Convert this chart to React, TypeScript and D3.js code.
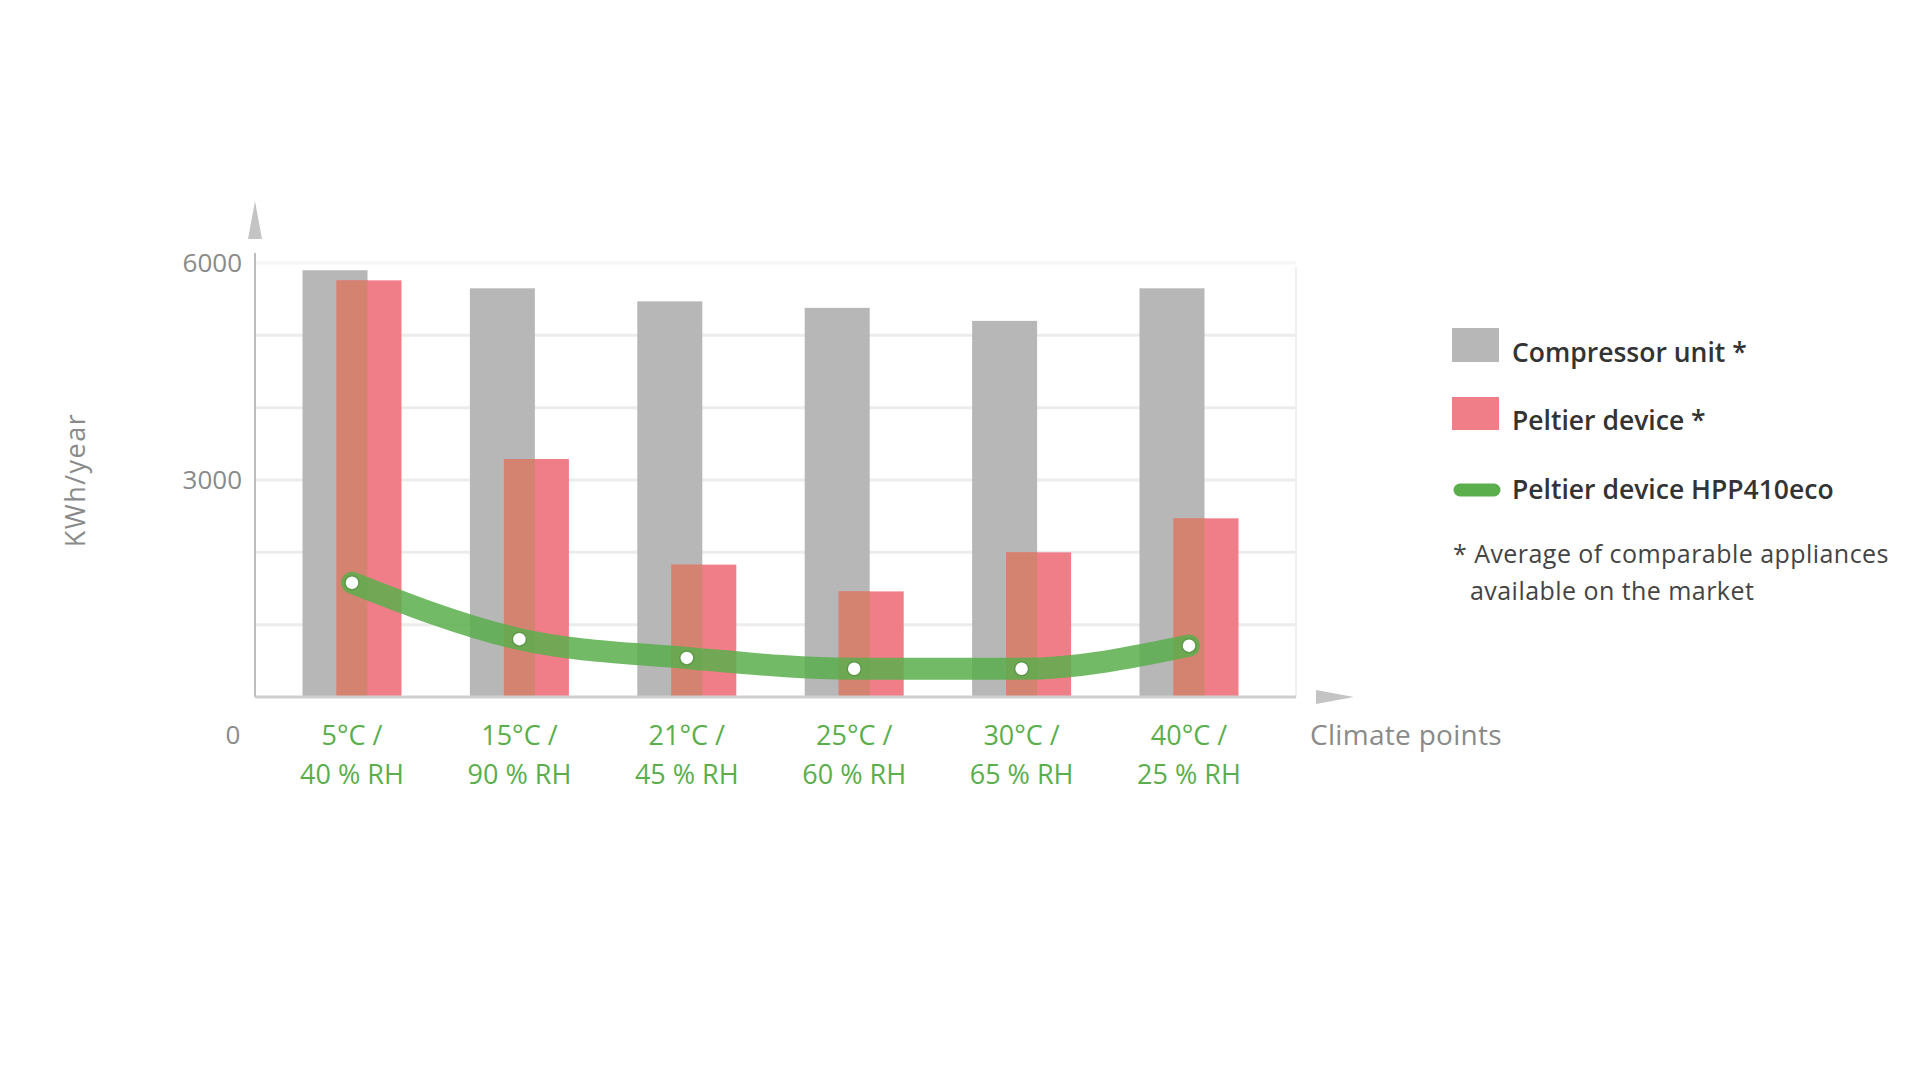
import React, { useEffect, useRef } from "react";
import * as d3 from "d3";

// climate points (two-line labels)
const climateTemp = ["5°C /", "15°C /", "21°C /", "25°C /", "30°C /", "40°C /"];
const climateRH = ["40 % RH", "90 % RH", "45 % RH", "60 % RH", "65 % RH", "25 % RH"];

// KWh/year
const compressorUnit = [5900, 5650, 5470, 5380, 5200, 5650];
const peltierDevice = [5760, 3290, 1830, 1460, 2000, 2470];
const peltierHPP410eco = [1580, 800, 540, 390, 390, 710];

const yTicks = [6000, 3000];
const gridValues = [1000, 2000, 3000, 4000, 5000, 6000];

const W = 1920;
const H = 1080;

const App = () => {
	const ref = useRef(null);

	useEffect(() => {
		const svg = d3.select(ref.current);
		svg.selectAll("*").remove();

		const left = 255;
		const right = 1296;
		const top = 263;
		const bottom = 697;

		const x = d3.scalePoint().domain(climateTemp).range([352, 1189]);
		const y = d3.scaleLinear().domain([0, 6000]).range([bottom, top]);

		const bw = 65;
		const off = 17;
		const font = "'Open Sans', 'Noto Sans', sans-serif";

		svg.append("rect").attr("width", W).attr("height", H).attr("fill", "#ffffff");

		// grid
		svg
			.selectAll(".grid")
			.data(gridValues)
			.enter()
			.append("line")
			.attr("x1", left)
			.attr("x2", right)
			.attr("y1", (d) => y(d))
			.attr("y2", (d) => y(d))
			.attr("stroke", (d) => (d === 6000 ? "#f6f6f6" : "#ececec"))
			.attr("stroke-width", 3);

		svg
			.append("line")
			.attr("x1", right)
			.attr("x2", right)
			.attr("y1", top + 4)
			.attr("y2", bottom)
			.attr("stroke", "#f0f0f0")
			.attr("stroke-width", 2);

		const rows = climateTemp.map((c, i) => ({
			c,
			comp: compressorUnit[i],
			pel: peltierDevice[i],
			eco: peltierHPP410eco[i],
		}));

		// compressor bars
		svg
			.selectAll(".comp")
			.data(rows)
			.enter()
			.append("rect")
			.attr("x", (d) => x(d.c) - off - bw / 2)
			.attr("y", (d) => y(d.comp))
			.attr("width", bw)
			.attr("height", (d) => bottom - y(d.comp))
			.attr("fill", "#b7b7b8");

		// peltier bars
		svg
			.selectAll(".pel")
			.data(rows)
			.enter()
			.append("rect")
			.attr("x", (d) => x(d.c) + off - bw / 2)
			.attr("y", (d) => y(d.pel))
			.attr("width", bw)
			.attr("height", (d) => bottom - y(d.pel))
			.attr("fill", "#f07e88");

		// overlap of the two bars
		svg
			.selectAll(".ovl")
			.data(rows)
			.enter()
			.append("rect")
			.attr("x", (d) => x(d.c) + off - bw / 2)
			.attr("y", (d) => y(Math.min(d.comp, d.pel)))
			.attr("width", bw - 2 * off)
			.attr("height", (d) => bottom - y(Math.min(d.comp, d.pel)))
			.attr("fill", "#d3836f");

		// axes
		svg
			.append("line")
			.attr("x1", left)
			.attr("x2", left)
			.attr("y1", top - 10)
			.attr("y2", bottom)
			.attr("stroke", "#bdbdbd")
			.attr("stroke-width", 2);
		svg
			.append("line")
			.attr("x1", left)
			.attr("x2", right)
			.attr("y1", bottom)
			.attr("y2", bottom)
			.attr("stroke", "#cfcfcf")
			.attr("stroke-width", 3);
		svg
			.append("path")
			.attr("d", `M${left - 7},${top - 24} L${left},${top - 62} L${left + 7},${top - 24} Z`)
			.attr("fill", "#c4c4c4");
		svg
			.append("path")
			.attr("d", `M${right + 20},${bottom - 7} L${right + 58},${bottom} L${right + 20},${bottom + 7} Z`)
			.attr("fill", "#c4c4c4");

		// eco line
		const line = d3
			.line()
			.x((d) => x(d.c))
			.y((d) => y(d.eco))
			.curve(d3.curveMonotoneX);

		svg
			.append("path")
			.datum(rows)
			.attr("d", line)
			.attr("fill", "none")
			.attr("stroke", "#5aae4c")
			.attr("stroke-opacity", 0.85)
			.attr("stroke-width", 22)
			.attr("stroke-linecap", "round")
			.attr("stroke-linejoin", "round");

		svg
			.selectAll(".dot")
			.data(rows)
			.enter()
			.append("circle")
			.attr("cx", (d) => x(d.c))
			.attr("cy", (d) => y(d.eco))
			.attr("r", 7)
			.attr("fill", "#ffffff")
			.attr("stroke", "#5d9a48")
			.attr("stroke-width", 1.5);

		// y tick labels
		svg
			.selectAll(".ytick")
			.data(yTicks)
			.enter()
			.append("text")
			.attr("x", left - 13)
			.attr("y", (d) => y(d))
			.attr("dy", "0.35em")
			.attr("text-anchor", "end")
			.attr("font-family", font)
			.attr("font-size", 26)
			.attr("fill", "#8a8a8a")
			.text((d) => d);

		svg
			.append("text")
			.attr("x", 233)
			.attr("y", 735)
			.attr("dy", "0.35em")
			.attr("text-anchor", "middle")
			.attr("font-family", font)
			.attr("font-size", 26)
			.attr("fill", "#8a8a8a")
			.text("0");

		svg
			.append("text")
			.attr("transform", `translate(76,480) rotate(-90)`)
			.attr("dy", "0.35em")
			.attr("text-anchor", "middle")
			.attr("font-family", font)
			.attr("font-size", 27)
			.attr("letter-spacing", 1.5)
			.attr("fill", "#8a8a8a")
			.text("KWh/year");

		// x labels
		const xl = svg
			.selectAll(".xl")
			.data(rows)
			.enter()
			.append("text")
			.attr("text-anchor", "middle")
			.attr("font-family", font)
			.attr("font-size", 27)
			.attr("fill", "#5aae4c");
		xl.append("tspan")
			.attr("x", (d) => x(d.c))
			.attr("y", 745)
			.text((d) => d.c);
		xl.append("tspan")
			.attr("x", (d) => x(d.c))
			.attr("y", 784)
			.text((d, i) => climateRH[i]);

		svg
			.append("text")
			.attr("x", 1310)
			.attr("y", 745)
			.attr("font-family", font)
			.attr("font-size", 28)
			.attr("letter-spacing", 0.3)
			.attr("fill", "#8a8a8a")
			.text("Climate points");

		// legend
		const lg = svg.append("g");
		lg.append("rect").attr("x", 1452).attr("y", 328).attr("width", 47).attr("height", 34).attr("fill", "#b7b7b8");
		lg.append("rect").attr("x", 1452).attr("y", 397).attr("width", 47).attr("height", 33).attr("fill", "#f07e88");
		lg.append("line")
			.attr("x1", 1460)
			.attr("x2", 1494)
			.attr("y1", 490)
			.attr("y2", 490)
			.attr("stroke", "#5aae4c")
			.attr("stroke-width", 13)
			.attr("stroke-linecap", "round");

		const legendItems = [
			["Compressor unit *", 353],
			["Peltier device *", 421],
			["Peltier device HPP410eco", 490],
		];
		lg.selectAll(".lt")
			.data(legendItems)
			.enter()
			.append("text")
			.attr("x", 1512)
			.attr("y", (d) => d[1])
			.attr("dy", "0.35em")
			.attr("font-family", font)
			.attr("font-size", 26.5)
			.attr("font-weight", 600)
			.attr("fill", "#333333")
			.text((d) => d[0]);

		lg.append("text")
			.attr("x", 1453)
			.attr("y", 554)
			.attr("dy", "0.35em")
			.attr("font-family", font)
			.attr("font-size", 25)
			.attr("letter-spacing", 0.45)
			.attr("fill", "#444444")
			.text("* Average of comparable appliances");
		lg.append("text")
			.attr("x", 1470)
			.attr("y", 591)
			.attr("dy", "0.35em")
			.attr("font-family", font)
			.attr("font-size", 25)
			.attr("letter-spacing", 0.45)
			.attr("fill", "#444444")
			.text("available on the market");
	}, []);

	return (
		<svg
			ref={ref}
			width={W}
			height={H}
			style={{ position: "absolute", left: 0, top: 0, display: "block" }}
		/>
	);
};

export default App;
